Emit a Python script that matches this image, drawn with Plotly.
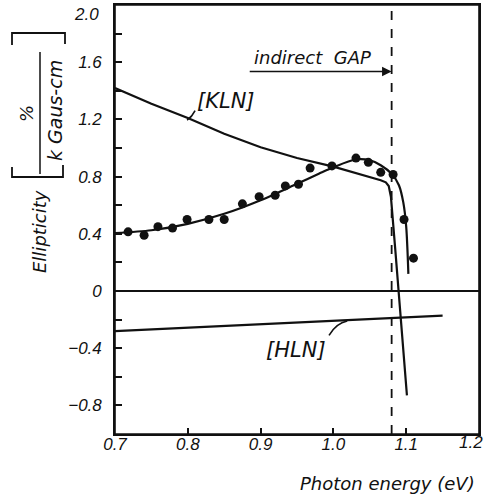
import plotly.graph_objects as go

# ---------------- data ----------------
fit_x = [0.70, 0.75, 0.80, 0.85, 0.90, 0.95, 0.98, 1.00, 1.03, 1.05, 1.065, 1.08, 1.09, 1.096, 1.100, 1.103]
fit_y = [0.405, 0.425, 0.47, 0.54, 0.635, 0.75, 0.82, 0.865, 0.92, 0.915, 0.88, 0.82, 0.74, 0.62, 0.45, 0.12]

kln_x = [0.70, 0.75, 0.80, 0.85, 0.90, 0.95, 1.00, 1.05, 1.065, 1.072, 1.076, 1.079, 1.082, 1.085, 1.101]
kln_y = [1.42, 1.31, 1.21, 1.10, 1.005, 0.93, 0.87, 0.80, 0.775, 0.76, 0.735, 0.66, 0.49, 0.29, -0.73]

hln_x = [0.70, 0.80, 0.90, 1.00, 1.10, 1.15]
hln_y = [-0.28, -0.255, -0.232, -0.208, -0.185, -0.172]

dots_x = [0.718, 0.740, 0.759, 0.779, 0.799, 0.829, 0.850, 0.875, 0.898, 0.920,
          0.934, 0.952, 0.968, 0.998, 1.031, 1.048, 1.065, 1.082, 1.097, 1.110]
dots_y = [0.414, 0.39, 0.45, 0.44, 0.50, 0.50, 0.50, 0.61, 0.66, 0.67,
          0.735, 0.747, 0.86, 0.875, 0.93, 0.90, 0.83, 0.815, 0.50, 0.23]

gap_energy = 1.08

x_ticks = [0.7, 0.8, 0.9, 1.0, 1.1, 1.2]
x_ticktext = ["0.7", "0.8", "0.9", "1.0", "1.1", "1.2"]
y_ticks = [2.0, 1.6, 1.2, 0.8, 0.4, 0.0, -0.4, -0.8]
y_ticktext = ["2.0", "1.6", "1.2", "0.8", "0.4", "0", "\u22120.4", "\u22120.8"]

# ---------------- layout geometry ----------------
W, H = 486, 498
ML, MR, MT, MB = 115, 7, 5, 64
PW, PH = W - ML - MR, H - MT - MB


def pp(px, py):
    """pixel -> paper coords"""
    return (px - ML) / PW, (H - MB - py) / PH


INK = "#111111"
TXT = dict(family="DejaVu Sans", size=18, color=INK, style="italic")
TICKF = dict(family="Liberation Sans", size=17, color=INK, style="italic")

# edge labels (top y label / right x label) are placed as annotations so they stay inside the page
x_axis_text = [t if v != x_ticks[-1] else "" for v, t in zip(x_ticks, x_ticktext)]
y_axis_text = [t if v != y_ticks[0] else "" for v, t in zip(y_ticks, y_ticktext)]

fig = go.Figure()

fig.add_trace(go.Scatter(x=kln_x, y=kln_y, mode="lines",
                         line=dict(color=INK, width=2.2), hoverinfo="skip"))
fig.add_trace(go.Scatter(x=fit_x, y=fit_y, mode="lines",
                         line=dict(color=INK, width=2.2, shape="spline", smoothing=0.8),
                         hoverinfo="skip"))
fig.add_trace(go.Scatter(x=hln_x, y=hln_y, mode="lines",
                         line=dict(color=INK, width=2.2), hoverinfo="skip"))
fig.add_trace(go.Scatter(x=dots_x, y=dots_y, mode="markers",
                         marker=dict(color=INK, size=9), hoverinfo="skip"))

# plot frame
fig.add_shape(type="rect", xref="paper", yref="paper", x0=0, y0=0, x1=1, y1=1,
              line=dict(color=INK, width=1.6), layer="above")

# dashed indirect gap line
fig.add_shape(type="line", xref="x", yref="paper", x0=gap_energy, x1=gap_energy, y0=0, y1=1,
              line=dict(color=INK, width=1.8, dash="dash"))

# arrow + label
fig.add_annotation(x=gap_energy, y=1.535, ax=0.883, ay=1.535, xref="x", yref="y",
                   axref="x", ayref="y", text="", showarrow=True,
                   arrowhead=2, arrowsize=1.2, arrowwidth=1.6, arrowcolor=INK)
fig.add_annotation(x=0.9706, y=1.633, xref="x", yref="y", text="indirect  GAP",
                   xanchor="center", yanchor="middle",
                   showarrow=False, font=dict(TXT, size=18))

# KLN label + leader
fig.add_annotation(x=0.8525, y=1.326, xref="x", yref="y", text="[KLN]",
                   xanchor="center", yanchor="middle",
                   showarrow=False, font=dict(TXT, size=21))
fig.add_shape(type="path", xref="x", yref="y",
              path="M 0.799,1.195 Q 0.806,1.22 0.810,1.262",
              line=dict(color=INK, width=1.6))

# HLN label + leader
fig.add_annotation(x=0.9486, y=-0.412, xref="x", yref="y", text="[HLN]",
                   xanchor="center", yanchor="middle",
                   showarrow=False, font=dict(TXT, size=21))
fig.add_shape(type="path", xref="x", yref="y",
              path="M 0.994,-0.31 Q 1.004,-0.225 1.019,-0.21",
              line=dict(color=INK, width=1.6))

# edge tick labels
lx, ly = pp(101, 15)
fig.add_annotation(x=lx, y=ly, xref="paper", yref="paper", xanchor="right", yanchor="middle",
                   text=y_ticktext[0], showarrow=False, font=TICKF)
rx, ry = pp(485, 442)
fig.add_annotation(x=rx, y=ry, xref="paper", yref="paper", xanchor="right", yanchor="middle",
                   text=x_ticktext[-1], showarrow=False, font=TICKF)

# x axis title
tx, ty = pp(477, 483)
fig.add_annotation(x=tx, y=ty, xref="paper", yref="paper", xanchor="right", yanchor="middle",
                   text="Photon energy (eV)", showarrow=False, font=TXT)

# y axis title pieces
ex, ey = pp(40, 232)
fig.add_annotation(x=ex, y=ey, xref="paper", yref="paper", text="Ellipticity",
                   xanchor="center", yanchor="middle",
                   textangle=-90, showarrow=False, font=TXT)
px_, py_ = pp(27, 114)
fig.add_annotation(x=px_, y=py_, xref="paper", yref="paper", text="%",
                   xanchor="center", yanchor="middle",
                   textangle=-90, showarrow=False, font=TXT)
kx, ky = pp(55, 111)
fig.add_annotation(x=kx, y=ky, xref="paper", yref="paper", text="k Gaus-cm",
                   xanchor="center", yanchor="middle",
                   textangle=-90, showarrow=False, font=dict(TXT, size=19))
fx0, fy0 = pp(40, 52)
fx1, fy1 = pp(40, 174)
fig.add_shape(type="line", xref="paper", yref="paper", x0=fx0, y0=fy0, x1=fx1, y1=fy1,
              line=dict(color=INK, width=1.5))


def bracket(pts):
    s = []
    for i, (a, b) in enumerate(pts):
        X, Y = pp(a, b)
        s.append(("M" if i == 0 else "L") + f" {X:.5f},{Y:.5f}")
    return " ".join(s)


fig.add_shape(type="path", xref="paper", yref="paper",
              path=bracket([(12, 45), (12, 33), (65, 33), (65, 44)]),
              line=dict(color=INK, width=1.8))
fig.add_shape(type="path", xref="paper", yref="paper",
              path=bracket([(12, 167), (12, 177), (63, 177), (63, 165)]),
              line=dict(color=INK, width=1.8))

fig.update_layout(
    width=W, height=H,
    margin=dict(l=ML, r=MR, t=MT, b=MB, pad=0, autoexpand=False),
    paper_bgcolor="white", plot_bgcolor="white",
    showlegend=False,
    xaxis=dict(range=[0.7, 1.2], showgrid=False, zeroline=False,
               showline=True, linecolor=INK, linewidth=1.6, mirror=True,
               ticks="inside", ticklen=6, tickwidth=1.5, tickcolor=INK,
               tickvals=x_ticks, ticktext=x_axis_text, tickfont=TICKF,
               ticklabeloverflow="allow", ticklabelstandoff=-6),
    yaxis=dict(range=[-1.0, 2.0005], showgrid=False,
               zeroline=True, zerolinecolor=INK, zerolinewidth=1.6,
               showline=True, linecolor=INK, linewidth=1.6, mirror=True,
               ticks="inside", ticklen=7, tickwidth=1.5, tickcolor=INK,
               tickvals=y_ticks, ticktext=y_axis_text, tickfont=TICKF,
               ticklabelstandoff=8, ticklabeloverflow="allow",
               minor=dict(ticks="inside", ticklen=7, tickwidth=1.5, tickcolor=INK,
                          tickvals=[1.8, 1.4, 1.0, 0.6, 0.2, -0.2, -0.6]),
               ),
)

fig.write_html("out.html", config={"displayModeBar": False},
               post_script="document.body.style.margin='0';document.body.style.overflow='hidden';")
